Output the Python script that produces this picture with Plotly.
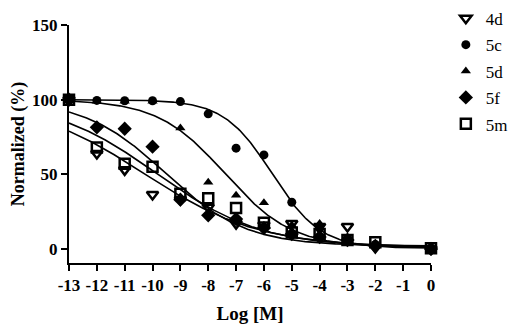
import numpy as np
import plotly.graph_objects as go

log_m = [-13, -12, -11, -10, -9, -8, -7, -6, -5, -4, -3, -2, 0]

v_4d = [100, 64, 53, 36.5, 33, 28, 17, 16, 17, 15, 15, 1, 0]
v_5c = [100, 99.5, 99.3, 99.3, 98.7, 90.5, 67.5, 63, 31.3, 14, 7, 3, 0.5]
v_5d = [100, 99, 99, 99, 81, 44.7, 36, 31, 16, 17, 8, 3, 0]
v_5f = [100, 81.5, 80.5, 68.5, 33, 22.5, 20, 14, 10, 8, 6, 2, 0]
v_5m = [100, 68, 57, 55, 37, 34, 27.5, 17.5, 11, 10, 6, 4.5, 0.5]

names = ["4d", "5c", "5d", "5f", "5m"]
values = [v_4d, v_5c, v_5d, v_5f, v_5m]

# fitted 4-parameter logistic curves: top, bottom, logIC50, hill slope
fit_top = [100, 100, 100, 100, 100]
fit_bottom = [1, 0.5, 1, 2, 1]
fit_logic50 = [-10.3, -5.7, -7.4, -9.55, -9.85]
fit_hill = [0.21, 0.5, 0.36, 0.30, 0.23]

symbols = ["triangle-down-open", "circle", "triangle-up", "diamond", "square-open"]
sizes = [10, 9, 9, 11, 10]

x_ticks = list(range(-13, 1))
y_ticks = [0, 50, 100, 150]

FONT = "Liberation Serif"

fig = go.Figure()

xs = np.linspace(-13, 0, 300)
for i in range(5):
    ys = fit_bottom[i] + (fit_top[i] - fit_bottom[i]) / (1 + 10 ** ((xs - fit_logic50[i]) * fit_hill[i]))
    fig.add_trace(go.Scatter(x=xs, y=ys, mode="lines", line=dict(color="black", width=1.6),
                             showlegend=False, hoverinfo="skip", cliponaxis=False))

for i in range(5):
    fig.add_trace(go.Scatter(
        x=log_m, y=values[i], mode="markers", name=names[i], legendgroup=names[i],
        marker=dict(symbol=symbols[i], size=sizes[i], color="black",
                    line=dict(color="black", width=2.5 if "open" in symbols[i] else 0)),
        cliponaxis=False,
    ))

# page body has an 8px margin, so the figure is 8px smaller and margins shifted
fig.update_layout(
    width=518, height=318,
    margin=dict(l=61, r=95, t=17, b=63, autoexpand=False),
    paper_bgcolor="white", plot_bgcolor="white",
    font=dict(family=FONT, color="black"),
    legend=dict(x=1.041, y=1.102, xanchor="left", yanchor="top",
                font=dict(family=FONT, size=17, color="black"),
                tracegroupgap=1.3, traceorder="grouped", bgcolor="rgba(0,0,0,0)"),
    xaxis=dict(range=[-13, 0], tickvals=x_ticks, ticktext=[str(t) for t in x_ticks],
               showgrid=False, zeroline=False, showline=True, linecolor="black", linewidth=2,
               ticks="outside", ticklen=6, tickwidth=2, tickcolor="black", automargin=False,
               tickfont=dict(family=FONT, size=17, color="black", weight="bold"),
               title=dict(text="<b>Log [M]</b>", font=dict(family=FONT, size=19, color="black"), standoff=12)),
    yaxis=dict(range=[-9.4, 150], tickvals=y_ticks, ticktext=[str(t) for t in y_ticks],
               showgrid=False, zeroline=False, showline=True, linecolor="black", linewidth=2,
               ticks="outside", ticklen=6, tickwidth=2, tickcolor="black", automargin=False,
               tickfont=dict(family=FONT, size=17, color="black", weight="bold"),
               title=dict(text="<b>Normalized (%)</b>", font=dict(family=FONT, size=18, color="black"), standoff=4)),
)

fig.write_html("out.html")
